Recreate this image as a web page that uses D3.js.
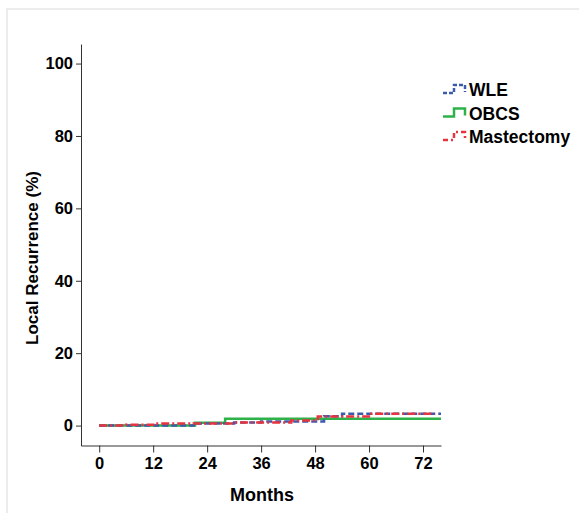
<!DOCTYPE html>
<html>
<head>
<meta charset="utf-8">
<script src="https://d3js.org/d3.v7.min.js"></script>
<style>
  body { margin: 0; background: #fff; }
  svg text { font-family: 'Liberation Sans', Arial, sans-serif; font-weight: bold; fill: #000; }
</style>
</head>
<body>
<div id="chart"></div>
<script>
// Kaplan-Meier style step data: [month, % recurrence]
const wleSteps = [[0,0],[21,0.6],[30,0.85],[36,1.1],[50,2.6],[54,3.3],[76,3.3]]
const obcsSteps = [[0,0],[21.3,0.8],[28,1.9],[76,1.9]]
const mastSteps = [[0,0],[6,0.2],[12.5,0.55],[21,0.6],[30,0.85],[42.7,1.4],[48.6,2.5],[60.5,3.3],[74.6,3.3]]

const seriesNames = ["WLE", "OBCS", "Mastectomy"]
const xTicks = [0, 12, 24, 36, 48, 60, 72]
const yTicks = [0, 20, 40, 60, 80, 100]

const W = 579, H = 513
const svg = d3.select("#chart").append("svg").attr("width", W).attr("height", H)

// light outer frame
svg.append("rect").attr("x", 7).attr("y", 9).attr("width", 600).attr("height", 600)
  .attr("fill", "none").attr("stroke", "#ececec").attr("stroke-width", 2)

const x = d3.scaleLinear().domain([-4.05, 76]).range([81, 441])
const y = d3.scaleLinear().domain([-5.5, 105.4]).range([445.5, 44])

// axes
const xAxis = svg.append("g").attr("transform", `translate(0,${y.range()[0]})`)
  .call(d3.axisBottom(x).tickValues(xTicks).tickSizeInner(7).tickSizeOuter(0).tickPadding(5))
const yAxis = svg.append("g").attr("transform", `translate(${x.range()[0]},0)`)
  .call(d3.axisLeft(y).tickValues(yTicks).tickSizeInner(5).tickSizeOuter(0).tickPadding(3))
;[xAxis, yAxis].forEach(g => {
  g.select(".domain").attr("stroke", "#333")
  g.selectAll(".tick line").attr("stroke", "#333")
  g.selectAll("text").style("font-size", "16.5px")
})

// step lines
const line = d3.line().x(d => x(d[0])).y(d => y(d[1])).curve(d3.curveStepAfter)
const styles = [
  {data: obcsSteps, color: "#2db24a", dash: null},
  {data: wleSteps, color: "#3b5bab", dash: "6,3"},
  {data: mastSteps, color: "#e8343e", dash: "8,3,2,3"}
]
styles.forEach(s => {
  svg.append("path").attr("d", line(s.data)).attr("fill", "none")
    .attr("stroke", s.color).attr("stroke-width", 2.5)
    .attr("stroke-dasharray", s.dash)
})

// axis titles
svg.append("text").attr("x", 262).attr("y", 501).attr("text-anchor", "middle")
  .style("font-size", "18px").text("Months")
svg.append("text").attr("transform", "translate(38,258) rotate(-90)").attr("text-anchor", "middle")
  .style("font-size", "17px").text("Local Recurrence (%)")

// legend
const legend = [
  {name: seriesNames[0], color: "#3b5bab", dash: "4,2"},
  {name: seriesNames[1], color: "#2db24a", dash: null},
  {name: seriesNames[2], color: "#e8343e", dash: "5,3,2,3"}
]
legend.forEach((l, i) => {
  const by = 96 + i * 23.5
  svg.append("path")
    .attr("d", `M443,${by - 3} H454 V${by - 11} H465 V${by - 4}`)
    .attr("fill", "none").attr("stroke", l.color).attr("stroke-width", 2.5)
    .attr("stroke-dasharray", l.dash)
  svg.append("text").attr("x", 469).attr("y", by).style("font-size", "17.5px").text(l.name)
})
</script>
</body>
</html>
